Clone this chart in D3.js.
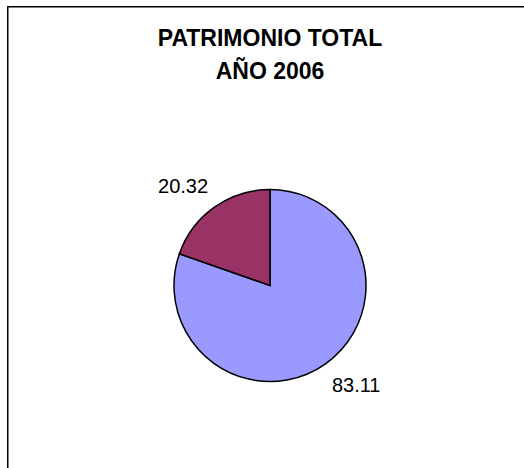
<!DOCTYPE html>
<html>
<head>
<meta charset="utf-8">
<script src="https://cdn.jsdelivr.net/npm/d3@7"></script>
<style>
  html, body { margin: 0; padding: 0; background: #fff; }
  svg { display: block; }
</style>
</head>
<body>
<svg id="chart" width="524" height="468"></svg>
<script>
const titleLines = ["PATRIMONIO TOTAL", "AÑO 2006"];
const categories = ["A", "B"];
const values = [83.11, 20.32];
const colors = ["#9999FF", "#993366"];

const svg = d3.select("#chart");

// border (right/bottom edges lie outside the view)
svg.append("rect")
  .attr("x", 7.75).attr("y", 6.75)
  .attr("width", 600).attr("height", 600)
  .attr("fill", "#fff")
  .attr("stroke", "#000")
  .attr("stroke-width", 1.5);

// title
const title = svg.append("text")
  .attr("text-anchor", "middle")
  .attr("font-family", "Liberation Sans, Arial, sans-serif")
  .attr("font-weight", "bold")
  .attr("font-size", 23)
  .attr("fill", "#000");
titleLines.forEach((t, i) => {
  title.append("tspan").attr("x", 270).attr("y", 45.5 + i * 33).text(t);
});

const cx = 270, cy = 285.5, r = 96;
const g = svg.append("g").attr("transform", `translate(${cx},${cy})`);

const data = categories.map((c, i) => ({ cat: c, value: values[i], color: colors[i] }));
const pie = d3.pie().sort(null).value(d => d.value).startAngle(0).endAngle(2 * Math.PI);
const arcs = pie(data);
const arc = d3.arc().innerRadius(0).outerRadius(r);
const labelArc = d3.arc().innerRadius(107).outerRadius(107);

g.selectAll("path.slice").data(arcs).join("path")
  .attr("class", "slice")
  .attr("d", arc)
  .attr("fill", d => d.data.color)
  .attr("stroke", "#000")
  .attr("stroke-width", 1.5)
  .attr("stroke-linejoin", "miter");

g.selectAll("text.lbl").data(arcs).join("text")
  .attr("class", "lbl")
  .attr("font-family", "Liberation Sans, Arial, sans-serif")
  .attr("font-size", 20)
  .attr("fill", "#000")
  .each(function(d) {
    const [x, y] = labelArc.centroid({ startAngle: d.startAngle, endAngle: d.endAngle });
    d3.select(this)
      .attr("x", x).attr("y", y)
      .attr("text-anchor", x < 0 ? "end" : "start")
      .attr("dy", y < 0 ? "-0.27em" : "0.95em");
  })
  .text(d => d.data.value.toFixed(2));
</script>
</body>
</html>
